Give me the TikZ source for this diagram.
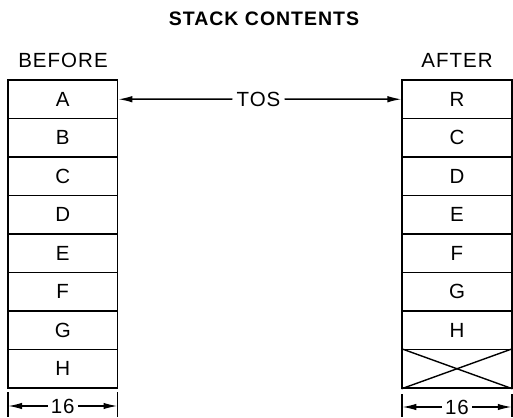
\documentclass[tikz,border=0pt]{standalone}
\usepackage{fontspec}
\setmainfont{Liberation Sans}[LetterSpace=5]
\usetikzlibrary{arrows.meta}
\begin{document}
\begin{tikzpicture}[x=1pt,y=-1pt,
  cell/.style={draw,line width=1.6pt,minimum width=109.5pt,minimum height=38.5pt,inner sep=0pt,font=\fontsize{20.5}{23}\selectfont},
  lbl/.style={font=\fontsize{20.5}{23}\selectfont,inner sep=0pt},
  ttl/.style={font=\bfseries\fontsize{19.5}{22}\selectfont,inner sep=0pt},
  arr/.style={line width=1.5pt,-{Latex[length=14pt,width=6.5pt]}},
  tick/.style={line width=1.6pt}]
\useasboundingbox (0,0) rectangle (513,417);
\node[ttl] (title) at (264,19) {STACK CONTENTS};
\node[lbl] (before) at (63,60) {BEFORE};
\node[lbl] (after) at (457,60) {AFTER};
% left stack
\foreach \t [count=\i] in {A,B,C,D,E,F,G,H}{
  \node[cell] (L\i) at (62.75,{80+38.5*(\i-0.5)}) {\t};
}
% right stack
\foreach \t [count=\i] in {R,C,D,E,F,G,H}{
  \node[cell] (R\i) at (457,{80+38.5*(\i-0.5)}) {\t};
}
\node[cell] (R8) at (457,{80+38.5*7.5}) {};
\draw[line width=1.4pt] (R8.north west) -- (R8.south east);
\draw[line width=1.4pt] (R8.south west) -- (R8.north east);
% TOS
\node[lbl,inner xsep=4pt] (tos) at (258.5,99) {TOS};
\draw[arr] (tos.west) -- (L1.east);
\draw[arr] (tos.east) -- (R1.west);
% dimension left
\coordinate (lt1a) at (8,392); \coordinate (lt1b) at (8,417);
\coordinate (lt2a) at (117.5,392); \coordinate (lt2b) at (117.5,417);
\draw[tick] (lt1a) -- (lt1b);
\draw[tick] (lt2a) -- (lt2b);
\node[lbl,inner xsep=3pt] (dimL) at (62.75,406) {16};
\coordinate (dl1) at (8,406); \coordinate (dl2) at (117.5,406);
\draw[arr] (dimL.west) -- (dl1);
\draw[arr] (dimL.east) -- (dl2);
% dimension right
\coordinate (rt1a) at (402.25,394); \coordinate (rt1b) at (402.25,417);
\coordinate (rt2a) at (511.75,394); \coordinate (rt2b) at (511.75,417);
\draw[tick] (rt1a) -- (rt1b);
\draw[tick] (rt2a) -- (rt2b);
\node[lbl,inner xsep=3pt] (dimR) at (457,407) {16};
\coordinate (dr1) at (402.25,407); \coordinate (dr2) at (511.75,407);
\draw[arr] (dimR.west) -- (dr1);
\draw[arr] (dimR.east) -- (dr2);
\end{tikzpicture}
\end{document}
